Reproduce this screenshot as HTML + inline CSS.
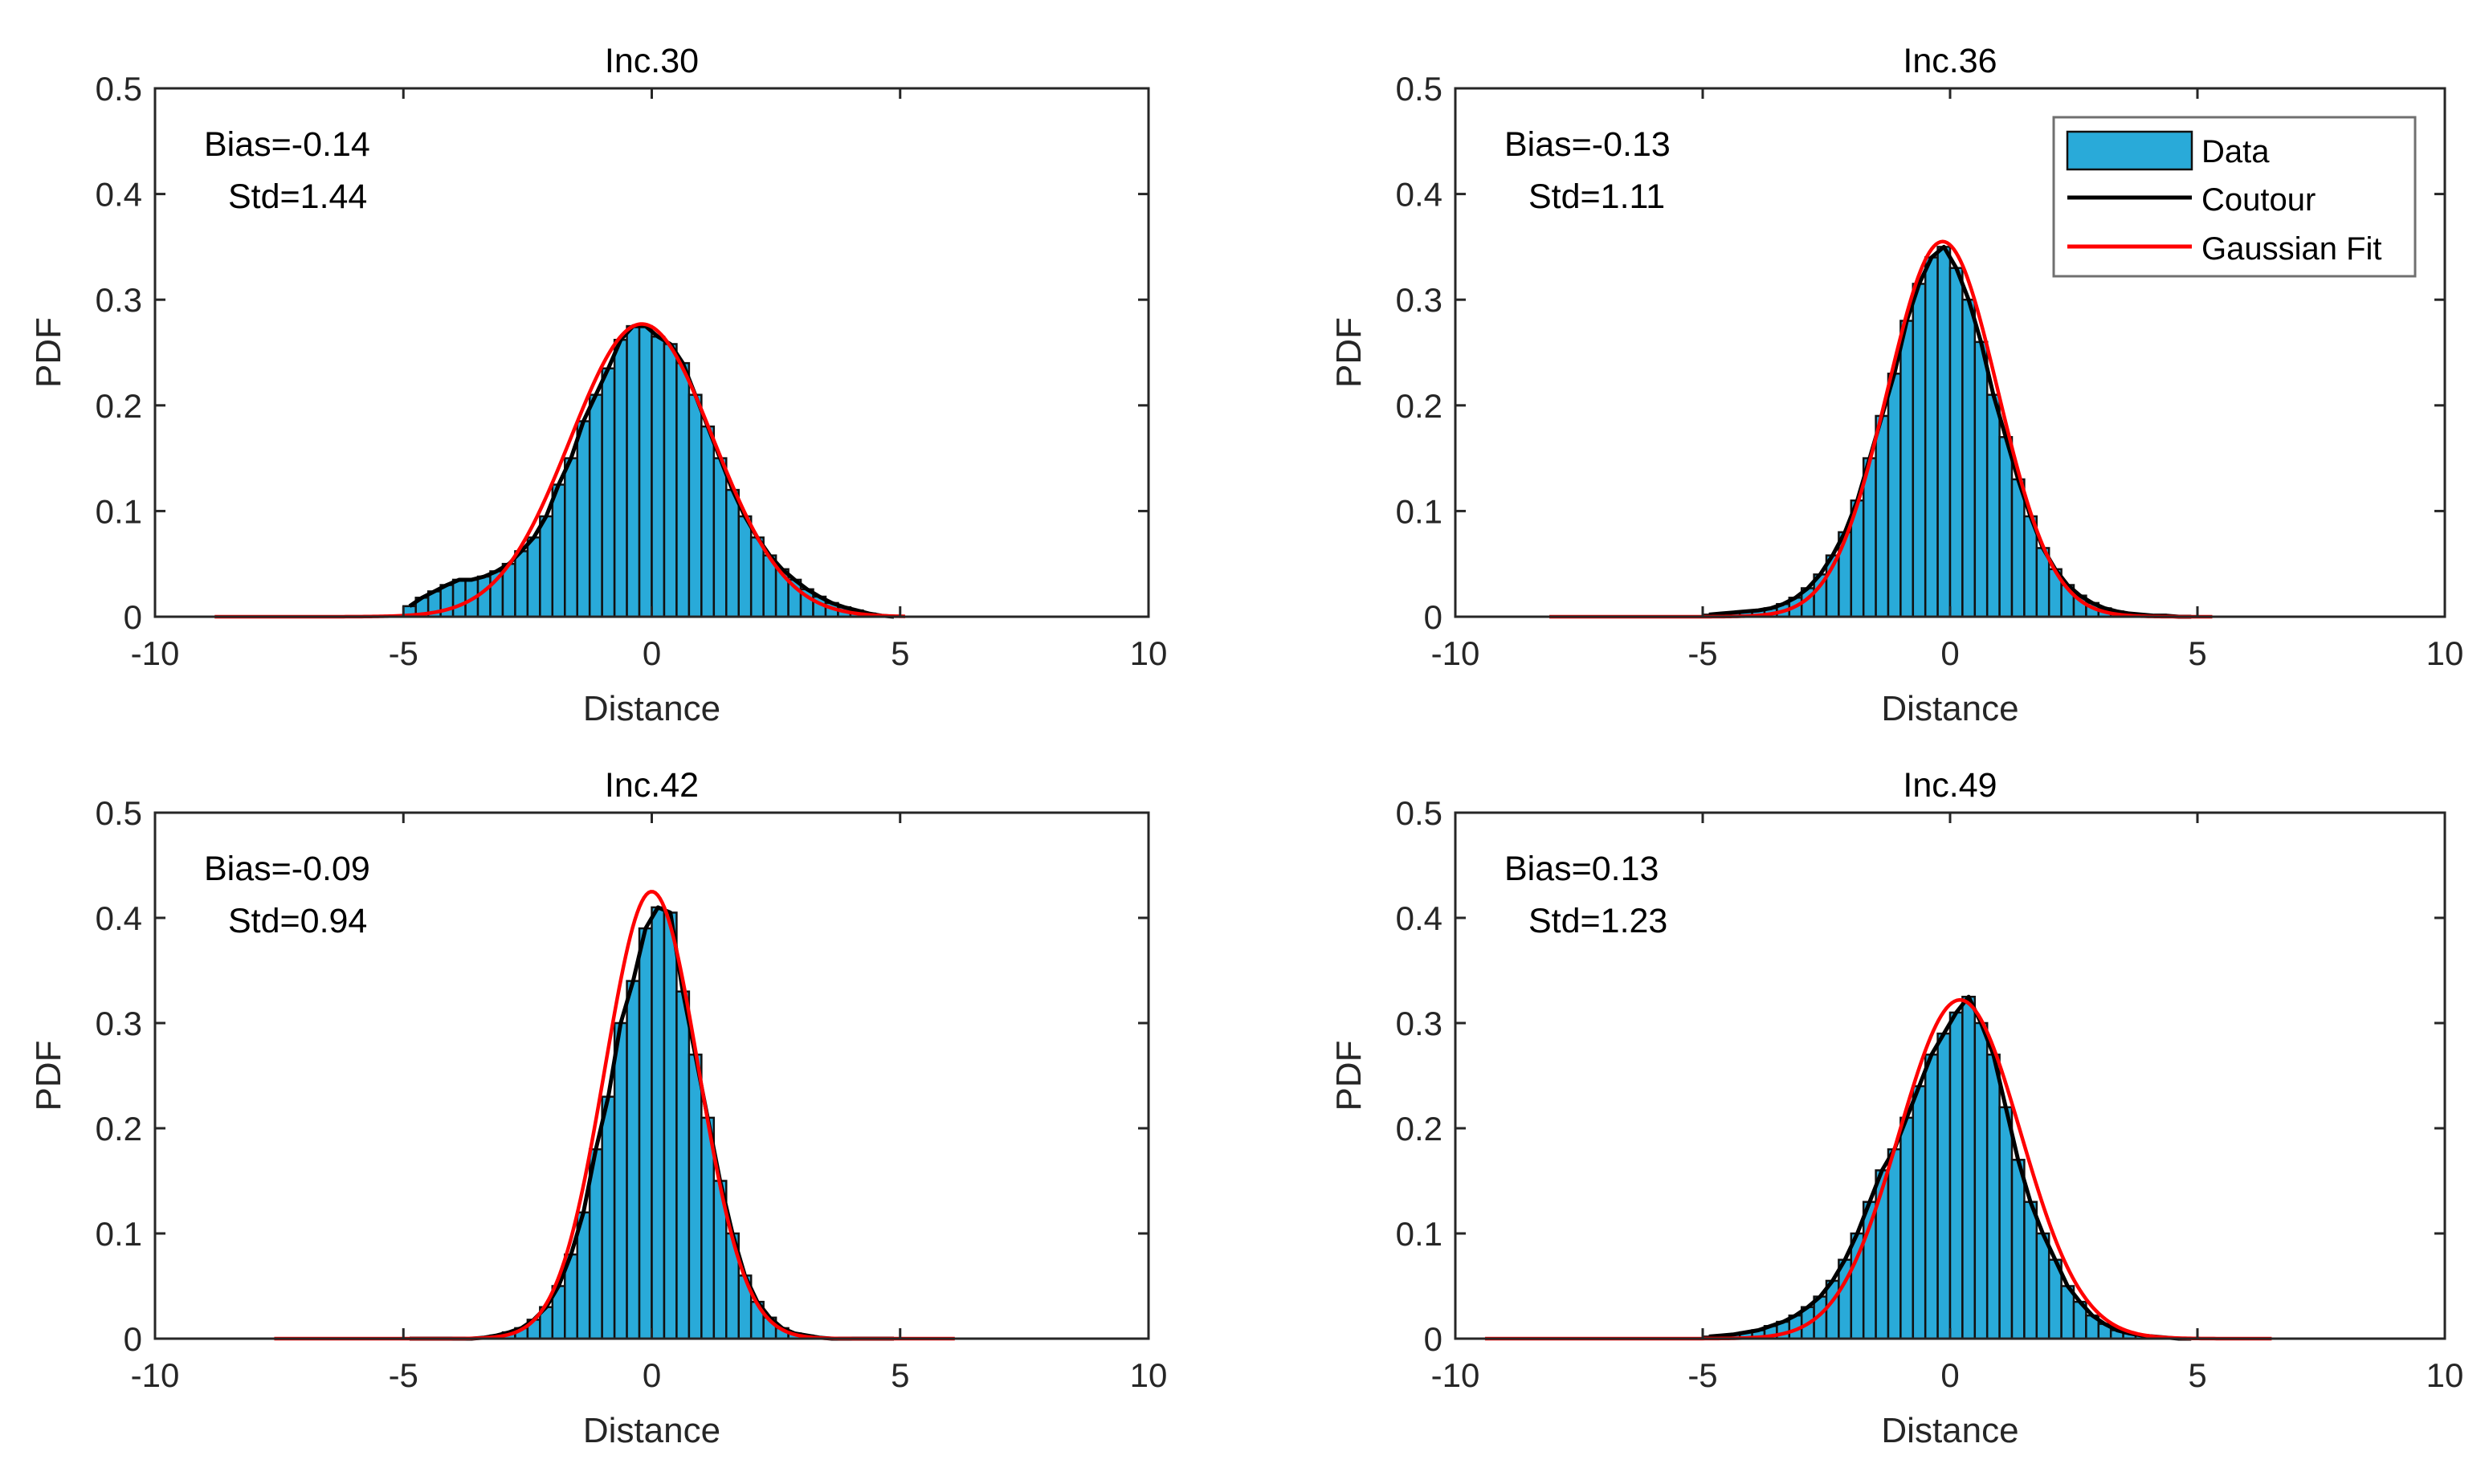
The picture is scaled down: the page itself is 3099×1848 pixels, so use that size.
<!DOCTYPE html>
<html><head><meta charset="utf-8"><style>
html,body{margin:0;padding:0;background:#fff;}
svg{display:block;font-family:"Liberation Sans",Arial,sans-serif;}
</style></head><body>
<svg id="fig" width="3099" height="1848" viewBox="0 0 3099 1848" xmlns="http://www.w3.org/2000/svg"></svg>
<script>
// bin centers (width 0.25) from -4.875 to 4.875
const binCenters = [-4.875,-4.625,-4.375,-4.125,-3.875,-3.625,-3.375,-3.125,-2.875,-2.625,-2.375,-2.125,-1.875,-1.625,-1.375,-1.125,-0.875,-0.625,-0.375,-0.125,0.125,0.375,0.625,0.875,1.125,1.375,1.625,1.875,2.125,2.375,2.625,2.875,3.125,3.375,3.625,3.875,4.125,4.375,4.625,4.875];
const binWidth = 0.25;
const titles = ["Inc.30","Inc.36","Inc.42","Inc.49"];
const biasLabels = ["Bias=-0.14","Bias=-0.13","Bias=-0.09","Bias=0.13"];
const stdLabels = ["Std=1.44","Std=1.11","Std=0.94","Std=1.23"];
const pdf30 = [0.01,0.018,0.024,0.03,0.035,0.035,0.038,0.043,0.05,0.062,0.075,0.095,0.125,0.15,0.185,0.21,0.235,0.262,0.275,0.275,0.265,0.258,0.24,0.21,0.18,0.15,0.12,0.095,0.075,0.058,0.045,0.035,0.026,0.019,0.013,0.009,0.006,0.003,0.001,0];
const pdf36 = [0.002,0.003,0.004,0.005,0.006,0.008,0.012,0.018,0.027,0.04,0.058,0.08,0.11,0.15,0.19,0.23,0.28,0.315,0.34,0.35,0.33,0.3,0.26,0.21,0.17,0.13,0.095,0.065,0.045,0.03,0.02,0.013,0.008,0.005,0.003,0.002,0.001,0.001,0,0];
const pdf42 = [0,0,0,0,0,0,0.001,0.003,0.006,0.01,0.018,0.03,0.05,0.08,0.12,0.18,0.23,0.3,0.34,0.39,0.41,0.405,0.33,0.27,0.21,0.15,0.1,0.06,0.035,0.02,0.01,0.005,0.003,0.001,0,0,0,0,0,0];
const pdf49 = [0.002,0.003,0.004,0.006,0.008,0.012,0.016,0.022,0.03,0.04,0.055,0.075,0.1,0.13,0.16,0.18,0.21,0.24,0.27,0.29,0.31,0.325,0.3,0.27,0.22,0.17,0.13,0.1,0.075,0.05,0.035,0.022,0.014,0.008,0.005,0.003,0.002,0.001,0,0];
const fitAmp = [0.277,0.355,0.425,0.322];
const fitMean = [-0.2,-0.15,0.0,0.2];
const fitStd = [1.44,1.11,0.94,1.23];
const fitStart = [-8.8,-8.1,-7.6,-9.4];
const fitEnd = [5.1,5.3,6.1,6.5];
const xTicks = [-10,-5,0,5,10];
const yTicks = [0,0.1,0.2,0.3,0.4,0.5];
const series = [pdf30,pdf36,pdf42,pdf49];

const NS="http://www.w3.org/2000/svg";
const svg=document.getElementById('fig');
function mk(tag,attrs,parent){const e=document.createElementNS(NS,tag);for(const k in attrs)e.setAttribute(k,attrs[k]);(parent||svg).appendChild(e);return e;}
const panels=[{l:193,r:1430,t:110,b:768},{l:1812,r:3044,t:110,b:768},{l:193,r:1430,t:1012,b:1667},{l:1812,r:3044,t:1012,b:1667}];
panels.forEach((p,i)=>{
  const g=mk('g',{});
  
  
  const X=v=>p.l+(v+10)/20*(p.r-p.l);
  const Y=v=>p.b-v/0.5*(p.b-p.t);
  const cx=(p.l+p.r)/2;
  const bg=mk('g',{},g);
  
  
  series[i].forEach((v,k)=>{
    if(v<=0)return;
    const x0=X(binCenters[k]-binWidth/2),x1=X(binCenters[k]+binWidth/2);
    const r=mk('rect',{x:x0,y:Y(v),width:x1-x0,height:Y(0)-Y(v),fill:'#29aad9',stroke:'#111','stroke-width':2.5},bg);
    
    
  });
  const pts=binCenters.map((c,k)=>X(c)+','+Y(series[i][k])).join(' ');
  const cl=mk('polyline',{points:pts,fill:'none',stroke:'#000','stroke-width':5,'stroke-linejoin':'round'},g);
  
  
  let fp=[];
  for(let s=0;s<=300;s++){const x=fitStart[i]+(fitEnd[i]-fitStart[i])*s/300;const y=fitAmp[i]*Math.exp(-Math.pow(x-fitMean[i],2)/(2*fitStd[i]*fitStd[i]));fp.push(X(x)+','+Y(y));}
  const fl=mk('polyline',{points:fp.join(' '),fill:'none',stroke:'#ff0000','stroke-width':4.5},g);
  
  
  const ax=mk('rect',{x:p.l,y:p.t,width:p.r-p.l,height:p.b-p.t,fill:'none',stroke:'#262626','stroke-width':3},g);
  
  
  xTicks.forEach(v=>{
    mk('line',{x1:X(v),x2:X(v),y1:p.b,y2:p.b-13,stroke:'#262626','stroke-width':3},g);
    mk('line',{x1:X(v),x2:X(v),y1:p.t,y2:p.t+13,stroke:'#262626','stroke-width':3},g);
    const t=mk('text',{x:X(v),y:p.b+60,'text-anchor':'middle','font-size':42,fill:'#262626'},g);
    t.textContent=v;
    
    
  });
  yTicks.forEach(v=>{
    mk('line',{x1:p.l,x2:p.l+13,y1:Y(v),y2:Y(v),stroke:'#262626','stroke-width':3},g);
    mk('line',{x1:p.r,x2:p.r-13,y1:Y(v),y2:Y(v),stroke:'#262626','stroke-width':3},g);
    const t=mk('text',{x:p.l-16,y:Y(v)+15,'text-anchor':'end','font-size':42,fill:'#262626'},g);
    t.textContent=v===0?'0':String(v);
    
    
  });
  const tt=mk('text',{x:cx,y:p.t-20,'text-anchor':'middle','font-size':43,fill:'#000'},g);
  tt.textContent=titles[i];
  
  
  const xl=mk('text',{x:cx,y:p.b+129,'text-anchor':'middle','font-size':44,fill:'#262626'},g);
  xl.textContent='Distance';
  
  
  const yy=(p.t+p.b)/2;
  const yl=mk('text',{x:p.l-118,y:yy,'text-anchor':'middle','font-size':44,fill:'#262626',transform:'rotate(-90 '+(p.l-118)+' '+yy+')'},g);
  yl.textContent='PDF';
  
  
  const b=mk('text',{x:p.l+61,y:p.t+84,'font-size':43,fill:'#000'},g);
  b.textContent=biasLabels[i];
  
  
  const s=mk('text',{x:p.l+91,y:p.t+149,'font-size':43,fill:'#000'},g);
  s.textContent=stdLabels[i];
  
  
});
const lg=mk('g',{});


mk('rect',{x:2557,y:146,width:450,height:198,fill:'#fff',stroke:'#707070','stroke-width':3},lg);
mk('rect',{x:2574,y:164,width:155,height:47,fill:'#29aad9',stroke:'#111','stroke-width':2.5},lg);
mk('line',{x1:2574,x2:2729,y1:246,y2:246,stroke:'#000','stroke-width':5},lg);
mk('line',{x1:2574,x2:2729,y1:307,y2:307,stroke:'#ff0000','stroke-width':5},lg);
const names=['Data','Coutour','Gaussian Fit'];const ly=[202,262,323];
names.forEach((n,k)=>{const t=mk('text',{x:2741,y:ly[k],'font-size':40,fill:'#000'},lg);t.textContent=n;

});
</script>
</body></html>
